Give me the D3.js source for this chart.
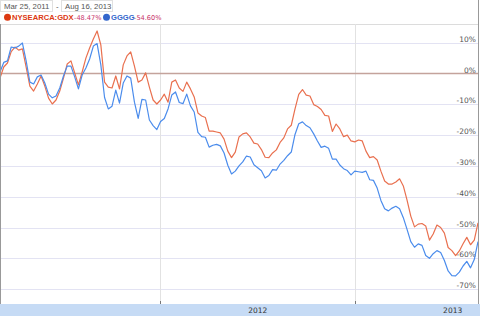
<!DOCTYPE html>
<html>
<head>
<meta charset="utf-8">
<script src="https://cdn.jsdelivr.net/npm/d3@7/dist/d3.min.js"></script>
<style>
  html, body { margin: 0; padding: 0; background: #fff; }
  svg { display: block; }
</style>
</head>
<body>
<div id="chart"></div>
<script>
// Weekly % change since start
const gdx = [
  -1.5, 2.1, 3.4, 7.1, 8.6, 7.6, 8.0, 2.1, -4.1, -5.7,
  -3.4, -0.8, -4.1, -8.0, -9.9, -8.6, -5.7, -1.5, 3.1, 4.1,
  0.2, -3.7, 0.5, 5.0, 8.3, 11.2, 13.8, 9.3, -2.8, -4.4,
  -4.7, -0.8, -5.0, 2.8, 5.7, 7.0, 2.4, -2.8, -2.1, 0.2,
  -4.4, -8.6, -9.9, -8.6, -6.7, -9.3, -2.8, -2.1, -4.7, -5.8,
  -2.8, -5.0, -7.6, -12.8, -13.8, -14.3, -18.7, -18.7, -19.0, -19.3,
  -21.3, -25.2, -27.3, -25.5, -20.6, -19.6, -19.3, -20.6, -22.6, -22.9,
  -24.7, -27.2, -27.3, -25.8, -24.8, -22.4, -20.9, -18.0, -16.8, -11.5,
  -6.8, -5.2, -7.0, -7.3, -10.1, -10.7, -11.7, -13.6, -13.8, -18.8,
  -16.4, -18.0, -20.5, -20.0, -21.9, -22.2, -21.6, -21.9, -25.2, -27.3,
  -27.0, -28.1, -31.7, -34.9, -35.9, -35.9, -35.2, -34.2, -36.5, -41.1,
  -46.3, -49.8, -48.9, -48.7, -49.5, -54.1, -52.1, -49.2, -50.0, -51.8,
  -56.5, -57.5, -59.1, -57.6, -55.3, -53.2, -55.6, -54.1, -48.5
];
const gggg = [
  0.5, 3.6, 4.1, 8.6, 8.3, 8.9, 9.9, 4.1, -2.8, -3.4,
  -1.1, -0.5, -3.1, -6.7, -7.9, -7.3, -4.7, -0.8, 2.4, 2.4,
  -1.1, -5.0, -0.5, 1.8, 4.7, 8.9, 9.7, 2.8, -7.8, -11.5,
  -10.6, -5.4, -9.6, -3.1, -0.8, -1.5, -9.3, -14.6, -8.4, -8.6,
  -15.1, -16.9, -18.2, -15.6, -14.6, -11.5, -7.0, -6.0, -9.4, -9.8,
  -6.7, -10.5, -12.5, -19.1, -20.5, -20.7, -23.9, -23.3, -23.0, -23.5,
  -25.8, -29.8, -32.6, -31.7, -30.0, -28.7, -26.8, -27.1, -29.6, -30.6,
  -31.6, -33.9, -33.1, -31.2, -31.4, -29.4, -28.2, -26.7, -25.5, -19.8,
  -16.3, -15.7, -16.9, -17.6, -19.6, -21.9, -24.0, -23.6, -24.3, -27.8,
  -27.8, -29.7, -30.9, -31.5, -32.9, -31.7, -31.9, -32.1, -31.7, -34.5,
  -34.7, -37.2, -41.2, -43.9, -44.6, -43.7, -43.1, -43.9, -46.8, -50.6,
  -54.6, -56.4, -55.3, -55.8, -59.1, -60.0, -58.5, -57.5, -58.1, -60.7,
  -64.1, -65.6, -65.7, -64.5, -62.5, -61.0, -63.1, -60.4, -54.6
];
const weeks = d3.timeMonday.range(new Date(2011, 2, 7), new Date(2013, 7, 20));
const yTicks = [10, 0, -10, -20, -30, -40, -50, -60, -70];
const years = [2012, 2013];
const rangeLabels = ['Mar 25, 2011', 'Aug 16, 2013'];
const seriesNames = ['NYSEARCA:GDX', 'GGGG'];
const seriesChanges = ['-48.47%', '-54.60%'];
const seriesColors = ['#e9704f', '#4b8cec'];
const nameColors = ['#dc3912', '#3366cc'];

const W = 480, H = 316;
const plotTop = 24, bandTop = 304;

const svg = d3.select('#chart').append('svg')
  .attr('width', W).attr('height', H);

const x = d3.scaleTime().domain([weeks[0], weeks[weeks.length - 1]]).range([0, 478]);
const y = d3.scaleLinear().domain([10, -70]).range([42.7, 289.1]);

// top border of plot
svg.append('line')
  .attr('x1', 0).attr('x2', 479).attr('y1', plotTop + 0.5).attr('y2', plotTop + 0.5)
  .attr('stroke', '#dcdcdc');

// horizontal gridlines
svg.selectAll('.grid').data(yTicks.filter((d) => d !== 0)).enter()
  .append('line')
  .attr('x1', 0).attr('x2', 479)
  .attr('y1', (d) => Math.round(y(d)) + 0.5).attr('y2', (d) => Math.round(y(d)) + 0.5)
  .attr('stroke', '#e3e3f3');

// year gridlines + ticks
years.forEach((yr) => {
  const xx = Math.round(x(new Date(yr, 0, 1))) + 0.5;
  svg.append('line')
    .attr('x1', xx).attr('x2', xx).attr('y1', plotTop).attr('y2', bandTop)
    .attr('stroke', '#e2e2e2');
  svg.append('line')
    .attr('x1', xx).attr('x2', xx).attr('y1', bandTop - 3).attr('y2', bandTop)
    .attr('stroke', '#777');
});

// zero line
svg.append('line')
  .attr('x1', 0).attr('x2', 479)
  .attr('y1', y(0)).attr('y2', y(0))
  .attr('stroke', '#c4a39c').attr('stroke-width', 1.5);

// y labels
svg.selectAll('.ylab').data(yTicks).enter()
  .append('text')
  .attr('x', 476).attr('y', (d) => Math.round(y(d)) - 1.5)
  .attr('text-anchor', 'end')
  .attr('font-family', 'DejaVu Sans, Verdana, sans-serif')
  .attr('font-size', 7.5)
  .attr('fill', '#555')
  .text((d) => `${d}%`);

// series lines
const line = d3.line()
  .x((d, i) => x(weeks[i]))
  .y((d) => y(d));
[gdx, gggg].forEach((s, k) => {
  svg.append('path')
    .datum(s)
    .attr('d', line)
    .attr('fill', 'none')
    .attr('stroke', seriesColors[k])
    .attr('stroke-width', 1.2)
    .attr('stroke-linejoin', 'round');
});

// bottom band with year labels
svg.append('rect')
  .attr('x', 0).attr('y', bandTop).attr('width', W).attr('height', H - bandTop)
  .attr('fill', '#c6dbf5');
svg.selectAll('.yearlab').data(years).enter()
  .append('text')
  .attr('x', (d) => (x(new Date(d, 0, 1)) + x(new Date(d + 1, 0, 1))) / 2)
  .attr('y', 313)
  .attr('text-anchor', 'middle')
  .attr('font-family', 'DejaVu Sans, Verdana, sans-serif')
  .attr('font-size', 7.5)
  .attr('fill', '#333')
  .text((d) => d);

// frame edges
svg.append('line')
  .attr('x1', 0.5).attr('x2', 0.5).attr('y1', plotTop).attr('y2', bandTop)
  .attr('stroke', '#999');
svg.append('line')
  .attr('x1', 478.5).attr('x2', 478.5).attr('y1', 0).attr('y2', bandTop)
  .attr('stroke', '#999');

// header: date range boxes
const boxes = [{ x: 0.5, w: 52 }, { x: 61.5, w: 51 }];
boxes.forEach((b, i) => {
  svg.append('rect')
    .attr('x', b.x).attr('y', 0.5).attr('width', b.w).attr('height', 11)
    .attr('fill', '#fff').attr('stroke', '#e0e0e0');
  svg.append('text')
    .attr('x', b.x + 3.5).attr('y', 9)
    .attr('font-family', 'Liberation Sans, Arial, sans-serif')
    .attr('font-size', 7.8)
    .attr('fill', '#555')
    .text(rangeLabels[i]);
});
svg.append('text')
  .attr('x', 56).attr('y', 9)
  .attr('font-family', 'Liberation Sans, Arial, sans-serif')
  .attr('font-size', 7.8)
  .attr('fill', '#555')
  .text('-');

// legend
const legendX = [{ dot: 7.5, name: 12, pct: 74 }, { dot: 106.5, name: 111, pct: 134 }];
seriesNames.forEach((name, k) => {
  const p = legendX[k];
  svg.append('circle')
    .attr('cx', p.dot).attr('cy', 17.3).attr('r', 3.5)
    .attr('fill', nameColors[k]);
  svg.append('text')
    .attr('x', p.name).attr('y', 20)
    .attr('font-family', 'Liberation Sans, Arial, sans-serif')
    .attr('font-weight', 'bold')
    .attr('font-size', 7.6)
    .attr('fill', nameColors[k])
    .text(name);
  svg.append('text')
    .attr('x', p.pct).attr('y', 20)
    .attr('font-family', 'DejaVu Sans, Verdana, sans-serif')
    .attr('font-size', 6.6)
    .attr('fill', '#c8336a')
    .text(seriesChanges[k]);
});
</script>
</body>
</html>
